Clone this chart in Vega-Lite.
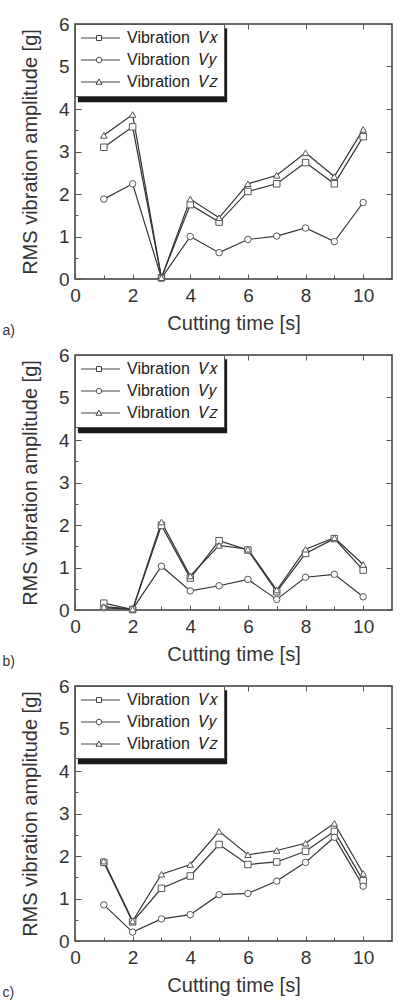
{
"$schema": "https://vega.github.io/schema/vega-lite/v6.json",
"background": "white",
"padding": {"left": 1, "top": 14, "right": 0, "bottom": 0},
"config": {
  "font": "Liberation Sans",
  "view": {"stroke": "#3a3a3a", "strokeWidth": 1.5},
  "axis": {"domain": false, "grid": false, "tickColor": "#555", "tickWidth": 1, "labelFont": "Liberation Sans", "labelFontSize": 19, "labelColor": "#333", "titleFont": "Liberation Sans", "titleFontSize": 20, "titleFontWeight": "normal", "titleColor": "#333", "labelFlush": false, "labelOverlap": false},
  "legend": {"strokeWidth": 1}
},
"data": {"values": [
{"p":"a","s":"Vx","t":1,"v":3.10},{"p":"a","s":"Vx","t":2,"v":3.58},{"p":"a","s":"Vx","t":3,"v":0.03},{"p":"a","s":"Vx","t":4,"v":1.75},{"p":"a","s":"Vx","t":5,"v":1.34},{"p":"a","s":"Vx","t":6,"v":2.06},{"p":"a","s":"Vx","t":7,"v":2.24},{"p":"a","s":"Vx","t":8,"v":2.74},{"p":"a","s":"Vx","t":9,"v":2.24},{"p":"a","s":"Vx","t":10,"v":3.35},
{"p":"a","s":"Vy","t":1,"v":1.88},{"p":"a","s":"Vy","t":2,"v":2.24},{"p":"a","s":"Vy","t":3,"v":0.02},{"p":"a","s":"Vy","t":4,"v":1.00},{"p":"a","s":"Vy","t":5,"v":0.62},{"p":"a","s":"Vy","t":6,"v":0.93},{"p":"a","s":"Vy","t":7,"v":1.01},{"p":"a","s":"Vy","t":8,"v":1.20},{"p":"a","s":"Vy","t":9,"v":0.88},{"p":"a","s":"Vy","t":10,"v":1.80},
{"p":"a","s":"Vz","t":1,"v":3.38},{"p":"a","s":"Vz","t":2,"v":3.87},{"p":"a","s":"Vz","t":3,"v":0.03},{"p":"a","s":"Vz","t":4,"v":1.88},{"p":"a","s":"Vz","t":5,"v":1.44},{"p":"a","s":"Vz","t":6,"v":2.24},{"p":"a","s":"Vz","t":7,"v":2.44},{"p":"a","s":"Vz","t":8,"v":2.97},{"p":"a","s":"Vz","t":9,"v":2.41},{"p":"a","s":"Vz","t":10,"v":3.52},
{"p":"b","s":"Vx","t":1,"v":0.16},{"p":"b","s":"Vx","t":2,"v":0.01},{"p":"b","s":"Vx","t":3,"v":1.99},{"p":"b","s":"Vx","t":4,"v":0.75},{"p":"b","s":"Vx","t":5,"v":1.63},{"p":"b","s":"Vx","t":6,"v":1.41},{"p":"b","s":"Vx","t":7,"v":0.43},{"p":"b","s":"Vx","t":8,"v":1.33},{"p":"b","s":"Vx","t":9,"v":1.68},{"p":"b","s":"Vx","t":10,"v":0.94},
{"p":"b","s":"Vy","t":1,"v":0.05},{"p":"b","s":"Vy","t":2,"v":0.02},{"p":"b","s":"Vy","t":3,"v":1.03},{"p":"b","s":"Vy","t":4,"v":0.45},{"p":"b","s":"Vy","t":5,"v":0.57},{"p":"b","s":"Vy","t":6,"v":0.72},{"p":"b","s":"Vy","t":7,"v":0.25},{"p":"b","s":"Vy","t":8,"v":0.77},{"p":"b","s":"Vy","t":9,"v":0.84},{"p":"b","s":"Vy","t":10,"v":0.31},
{"p":"b","s":"Vz","t":1,"v":0.08},{"p":"b","s":"Vz","t":2,"v":0.02},{"p":"b","s":"Vz","t":3,"v":2.07},{"p":"b","s":"Vz","t":4,"v":0.80},{"p":"b","s":"Vz","t":5,"v":1.52},{"p":"b","s":"Vz","t":6,"v":1.43},{"p":"b","s":"Vz","t":7,"v":0.47},{"p":"b","s":"Vz","t":8,"v":1.43},{"p":"b","s":"Vz","t":9,"v":1.70},{"p":"b","s":"Vz","t":10,"v":1.07},
{"p":"c","s":"Vx","t":1,"v":1.85},{"p":"c","s":"Vx","t":2,"v":0.45},{"p":"c","s":"Vx","t":3,"v":1.24},{"p":"c","s":"Vx","t":4,"v":1.53},{"p":"c","s":"Vx","t":5,"v":2.27},{"p":"c","s":"Vx","t":6,"v":1.80},{"p":"c","s":"Vx","t":7,"v":1.86},{"p":"c","s":"Vx","t":8,"v":2.11},{"p":"c","s":"Vx","t":9,"v":2.58},{"p":"c","s":"Vx","t":10,"v":1.42},
{"p":"c","s":"Vy","t":1,"v":0.85},{"p":"c","s":"Vy","t":2,"v":0.21},{"p":"c","s":"Vy","t":3,"v":0.52},{"p":"c","s":"Vy","t":4,"v":0.62},{"p":"c","s":"Vy","t":5,"v":1.09},{"p":"c","s":"Vy","t":6,"v":1.12},{"p":"c","s":"Vy","t":7,"v":1.41},{"p":"c","s":"Vy","t":8,"v":1.85},{"p":"c","s":"Vy","t":9,"v":2.44},{"p":"c","s":"Vy","t":10,"v":1.29},
{"p":"c","s":"Vz","t":1,"v":1.88},{"p":"c","s":"Vz","t":2,"v":0.47},{"p":"c","s":"Vz","t":3,"v":1.57},{"p":"c","s":"Vz","t":4,"v":1.80},{"p":"c","s":"Vz","t":5,"v":2.58},{"p":"c","s":"Vz","t":6,"v":2.03},{"p":"c","s":"Vz","t":7,"v":2.13},{"p":"c","s":"Vz","t":8,"v":2.30},{"p":"c","s":"Vz","t":9,"v":2.77},{"p":"c","s":"Vz","t":10,"v":1.59}
]},
"bounds": "flush",
"spacing": 76,
"resolve": {"scale": {"shape": "independent"}, "legend": {"shape": "independent"}},
"vconcat": [
{
  "width": 317, "height": 255,
  "title": {"text": "a)", "orient": "bottom", "anchor": "start", "frame": "bounds", "dx": -18, "dy": -13, "fontSize": 14, "fontWeight": "normal", "color": "#333", "font": "Liberation Sans"},
  "transform": [{"filter": "datum.p == 'a'"}],
  "resolve": {"scale": {"shape": "independent"}, "axis": {"x": "independent", "y": "independent"}},
  "layer": [
    {"data": {"values": [{"k": 1}]}, "mark": {"type": "rect", "color": "#1a1a1a"},
     "encoding": {"x": {"datum": 0.1, "type": "quantitative", "scale": {"domain": [0, 11], "nice": false}, "axis": null}, "x2": {"datum": 5.28},
                  "y": {"datum": 5.9, "type": "quantitative", "scale": {"domain": [0, 6], "nice": false}, "axis": null}, "y2": {"datum": 4.16}}},
    {"mark": {"type": "line", "color": "#333", "strokeWidth": 1.2},
     "encoding": {
       "x": {"field": "t", "type": "quantitative", "scale": {"domain": [0, 11], "nice": false}, "axis": {"orient": "bottom", "values": [0,2,4,6,8,10], "tickSize": -5, "labelPadding": 12, "title": "Cutting time [s]", "titlePadding": 8}},
       "y": {"field": "v", "type": "quantitative", "scale": {"domain": [0, 6], "nice": false}, "axis": {"orient": "left", "values": [0,1,2,3,4,5,6], "tickSize": -6, "labelPadding": 12, "title": "RMS vibration amplitude [g]", "titlePadding": 18}},
       "detail": {"field": "s"}}},
    {"mark": {"type": "point", "filled": true, "fill": "white", "stroke": "#555", "strokeWidth": 1, "size": 42, "opacity": 1},
     "encoding": {
       "x": {"field": "t", "type": "quantitative", "scale": {"domain": [0, 11], "nice": false}, "axis": {"orient": "bottom", "values": [1,3,5,7,9], "tickSize": -4, "labels": false, "title": null}},
       "y": {"field": "v", "type": "quantitative", "scale": {"domain": [0, 6], "nice": false}, "axis": {"orient": "left", "values": [0.5,1.5,2.5,3.5,4.5,5.5], "tickSize": -3, "labels": false, "title": null}},
       "shape": {"field": "s", "type": "nominal", "scale": {"domain": ["Vx","Vy","Vz"], "range": ["square","circle","triangle-up"]}, "legend": null}}},
    {"transform": [{"filter": "false"}],
     "mark": {"type": "point", "filled": false, "color": "#444", "strokeWidth": 1},
     "encoding": {
       "x": {"field": "t", "type": "quantitative", "scale": {"domain": [0, 11], "nice": false}, "axis": {"orient": "top", "values": [0,2,4,6,8,10], "tickSize": -5, "labels": false, "title": null}},
       "y": {"field": "v", "type": "quantitative", "scale": {"domain": [0, 6], "nice": false}, "axis": {"orient": "right", "values": [0,1,2,3,4,5,6], "tickSize": -6, "labels": false, "title": null}},
       "shape": {"field": "s", "type": "nominal", "scale": {"domain": ["Vx","Vy","Vz"], "range": ["M-1.6,0H1.5M2.5,0H6.2M1.5,-0.5H2.5V0.5H1.5Z", "M-1.6,0H1.45M2.55,0H6.2M1.45,0A0.55,0.55,0,1,0,2.55,0A0.55,0.55,0,1,0,1.45,0Z", "M-1.6,0H1.72M2.28,0H6.2M1.4,0.45L2.6,0.45L2,-0.6Z"]},
         "legend": {"title": null, "orient": "top-left", "offset": 0, "padding": 6, "fillColor": "white", "strokeColor": "#555", "symbolSize": 100, "symbolStrokeWidth": 1, "symbolFillColor": "white", "symbolStrokeColor": "#444", "symbolOpacity": 1, "labelOffset": 30, "rowPadding": 6, "labelFontSize": 16, "labelFont": "Liberation Sans", "labelColor": "#222", "labelLimit": 0,
           "encode": {"symbols": {"update": {"stroke": {"value": "#444"}, "fill": {"value": "white"}, "strokeWidth": {"value": 1}, "opacity": {"value": 1}}}},
           "labelExpr": "'Vibration\u00a0 ' + (datum.label == 'Vx' ? '𝑉𝑥' : datum.label == 'Vy' ? '𝑉𝑦' : '𝑉𝑧')"}}}}
  ]
},
{
  "width": 317, "height": 255,
  "title": {"text": "b)", "orient": "bottom", "anchor": "start", "frame": "bounds", "dx": -18, "dy": -13, "fontSize": 14, "fontWeight": "normal", "color": "#333", "font": "Liberation Sans"},
  "transform": [{"filter": "datum.p == 'b'"}],
  "resolve": {"scale": {"shape": "independent"}, "axis": {"x": "independent", "y": "independent"}},
  "layer": [
    {"data": {"values": [{"k": 1}]}, "mark": {"type": "rect", "color": "#1a1a1a"},
     "encoding": {"x": {"datum": 0.1, "type": "quantitative", "scale": {"domain": [0, 11], "nice": false}, "axis": null}, "x2": {"datum": 5.28},
                  "y": {"datum": 5.9, "type": "quantitative", "scale": {"domain": [0, 6], "nice": false}, "axis": null}, "y2": {"datum": 4.16}}},
    {"mark": {"type": "line", "color": "#333", "strokeWidth": 1.2},
     "encoding": {
       "x": {"field": "t", "type": "quantitative", "scale": {"domain": [0, 11], "nice": false}, "axis": {"orient": "bottom", "values": [0,2,4,6,8,10], "tickSize": -5, "labelPadding": 12, "title": "Cutting time [s]", "titlePadding": 8}},
       "y": {"field": "v", "type": "quantitative", "scale": {"domain": [0, 6], "nice": false}, "axis": {"orient": "left", "values": [0,1,2,3,4,5,6], "tickSize": -6, "labelPadding": 12, "title": "RMS vibration amplitude [g]", "titlePadding": 18}},
       "detail": {"field": "s"}}},
    {"mark": {"type": "point", "filled": true, "fill": "white", "stroke": "#555", "strokeWidth": 1, "size": 42, "opacity": 1},
     "encoding": {
       "x": {"field": "t", "type": "quantitative", "scale": {"domain": [0, 11], "nice": false}, "axis": {"orient": "bottom", "values": [1,3,5,7,9], "tickSize": -4, "labels": false, "title": null}},
       "y": {"field": "v", "type": "quantitative", "scale": {"domain": [0, 6], "nice": false}, "axis": {"orient": "left", "values": [0.5,1.5,2.5,3.5,4.5,5.5], "tickSize": -3, "labels": false, "title": null}},
       "shape": {"field": "s", "type": "nominal", "scale": {"domain": ["Vx","Vy","Vz"], "range": ["square","circle","triangle-up"]}, "legend": null}}},
    {"transform": [{"filter": "false"}],
     "mark": {"type": "point", "filled": false, "color": "#444", "strokeWidth": 1},
     "encoding": {
       "x": {"field": "t", "type": "quantitative", "scale": {"domain": [0, 11], "nice": false}, "axis": {"orient": "top", "values": [0,2,4,6,8,10], "tickSize": -5, "labels": false, "title": null}},
       "y": {"field": "v", "type": "quantitative", "scale": {"domain": [0, 6], "nice": false}, "axis": {"orient": "right", "values": [0,1,2,3,4,5,6], "tickSize": -6, "labels": false, "title": null}},
       "shape": {"field": "s", "type": "nominal", "scale": {"domain": ["Vx","Vy","Vz"], "range": ["M-1.6,0H1.5M2.5,0H6.2M1.5,-0.5H2.5V0.5H1.5Z", "M-1.6,0H1.45M2.55,0H6.2M1.45,0A0.55,0.55,0,1,0,2.55,0A0.55,0.55,0,1,0,1.45,0Z", "M-1.6,0H1.72M2.28,0H6.2M1.4,0.45L2.6,0.45L2,-0.6Z"]},
         "legend": {"title": null, "orient": "top-left", "offset": 0, "padding": 6, "fillColor": "white", "strokeColor": "#555", "symbolSize": 100, "symbolStrokeWidth": 1, "symbolFillColor": "white", "symbolStrokeColor": "#444", "symbolOpacity": 1, "labelOffset": 30, "rowPadding": 6, "labelFontSize": 16, "labelFont": "Liberation Sans", "labelColor": "#222", "labelLimit": 0,
           "encode": {"symbols": {"update": {"stroke": {"value": "#444"}, "fill": {"value": "white"}, "strokeWidth": {"value": 1}, "opacity": {"value": 1}}}},
           "labelExpr": "'Vibration\u00a0 ' + (datum.label == 'Vx' ? '𝑉𝑥' : datum.label == 'Vy' ? '𝑉𝑦' : '𝑉𝑧')"}}}}
  ]
},
{
  "width": 317, "height": 255,
  "title": {"text": "c)", "orient": "bottom", "anchor": "start", "frame": "bounds", "dx": -18, "dy": -13, "fontSize": 14, "fontWeight": "normal", "color": "#333", "font": "Liberation Sans"},
  "transform": [{"filter": "datum.p == 'c'"}],
  "resolve": {"scale": {"shape": "independent"}, "axis": {"x": "independent", "y": "independent"}},
  "layer": [
    {"data": {"values": [{"k": 1}]}, "mark": {"type": "rect", "color": "#1a1a1a"},
     "encoding": {"x": {"datum": 0.1, "type": "quantitative", "scale": {"domain": [0, 11], "nice": false}, "axis": null}, "x2": {"datum": 5.28},
                  "y": {"datum": 5.9, "type": "quantitative", "scale": {"domain": [0, 6], "nice": false}, "axis": null}, "y2": {"datum": 4.16}}},
    {"mark": {"type": "line", "color": "#333", "strokeWidth": 1.2},
     "encoding": {
       "x": {"field": "t", "type": "quantitative", "scale": {"domain": [0, 11], "nice": false}, "axis": {"orient": "bottom", "values": [0,2,4,6,8,10], "tickSize": -5, "labelPadding": 12, "title": "Cutting time [s]", "titlePadding": 8}},
       "y": {"field": "v", "type": "quantitative", "scale": {"domain": [0, 6], "nice": false}, "axis": {"orient": "left", "values": [0,1,2,3,4,5,6], "tickSize": -6, "labelPadding": 12, "title": "RMS vibration amplitude [g]", "titlePadding": 18}},
       "detail": {"field": "s"}}},
    {"mark": {"type": "point", "filled": true, "fill": "white", "stroke": "#555", "strokeWidth": 1, "size": 42, "opacity": 1},
     "encoding": {
       "x": {"field": "t", "type": "quantitative", "scale": {"domain": [0, 11], "nice": false}, "axis": {"orient": "bottom", "values": [1,3,5,7,9], "tickSize": -4, "labels": false, "title": null}},
       "y": {"field": "v", "type": "quantitative", "scale": {"domain": [0, 6], "nice": false}, "axis": {"orient": "left", "values": [0.5,1.5,2.5,3.5,4.5,5.5], "tickSize": -3, "labels": false, "title": null}},
       "shape": {"field": "s", "type": "nominal", "scale": {"domain": ["Vx","Vy","Vz"], "range": ["square","circle","triangle-up"]}, "legend": null}}},
    {"transform": [{"filter": "false"}],
     "mark": {"type": "point", "filled": false, "color": "#444", "strokeWidth": 1},
     "encoding": {
       "x": {"field": "t", "type": "quantitative", "scale": {"domain": [0, 11], "nice": false}, "axis": {"orient": "top", "values": [0,2,4,6,8,10], "tickSize": -5, "labels": false, "title": null}},
       "y": {"field": "v", "type": "quantitative", "scale": {"domain": [0, 6], "nice": false}, "axis": {"orient": "right", "values": [0,1,2,3,4,5,6], "tickSize": -6, "labels": false, "title": null}},
       "shape": {"field": "s", "type": "nominal", "scale": {"domain": ["Vx","Vy","Vz"], "range": ["M-1.6,0H1.5M2.5,0H6.2M1.5,-0.5H2.5V0.5H1.5Z", "M-1.6,0H1.45M2.55,0H6.2M1.45,0A0.55,0.55,0,1,0,2.55,0A0.55,0.55,0,1,0,1.45,0Z", "M-1.6,0H1.72M2.28,0H6.2M1.4,0.45L2.6,0.45L2,-0.6Z"]},
         "legend": {"title": null, "orient": "top-left", "offset": 0, "padding": 6, "fillColor": "white", "strokeColor": "#555", "symbolSize": 100, "symbolStrokeWidth": 1, "symbolFillColor": "white", "symbolStrokeColor": "#444", "symbolOpacity": 1, "labelOffset": 30, "rowPadding": 6, "labelFontSize": 16, "labelFont": "Liberation Sans", "labelColor": "#222", "labelLimit": 0,
           "encode": {"symbols": {"update": {"stroke": {"value": "#444"}, "fill": {"value": "white"}, "strokeWidth": {"value": 1}, "opacity": {"value": 1}}}},
           "labelExpr": "'Vibration\u00a0 ' + (datum.label == 'Vx' ? '𝑉𝑥' : datum.label == 'Vy' ? '𝑉𝑦' : '𝑉𝑧')"}}}}
  ]
}
]
}
